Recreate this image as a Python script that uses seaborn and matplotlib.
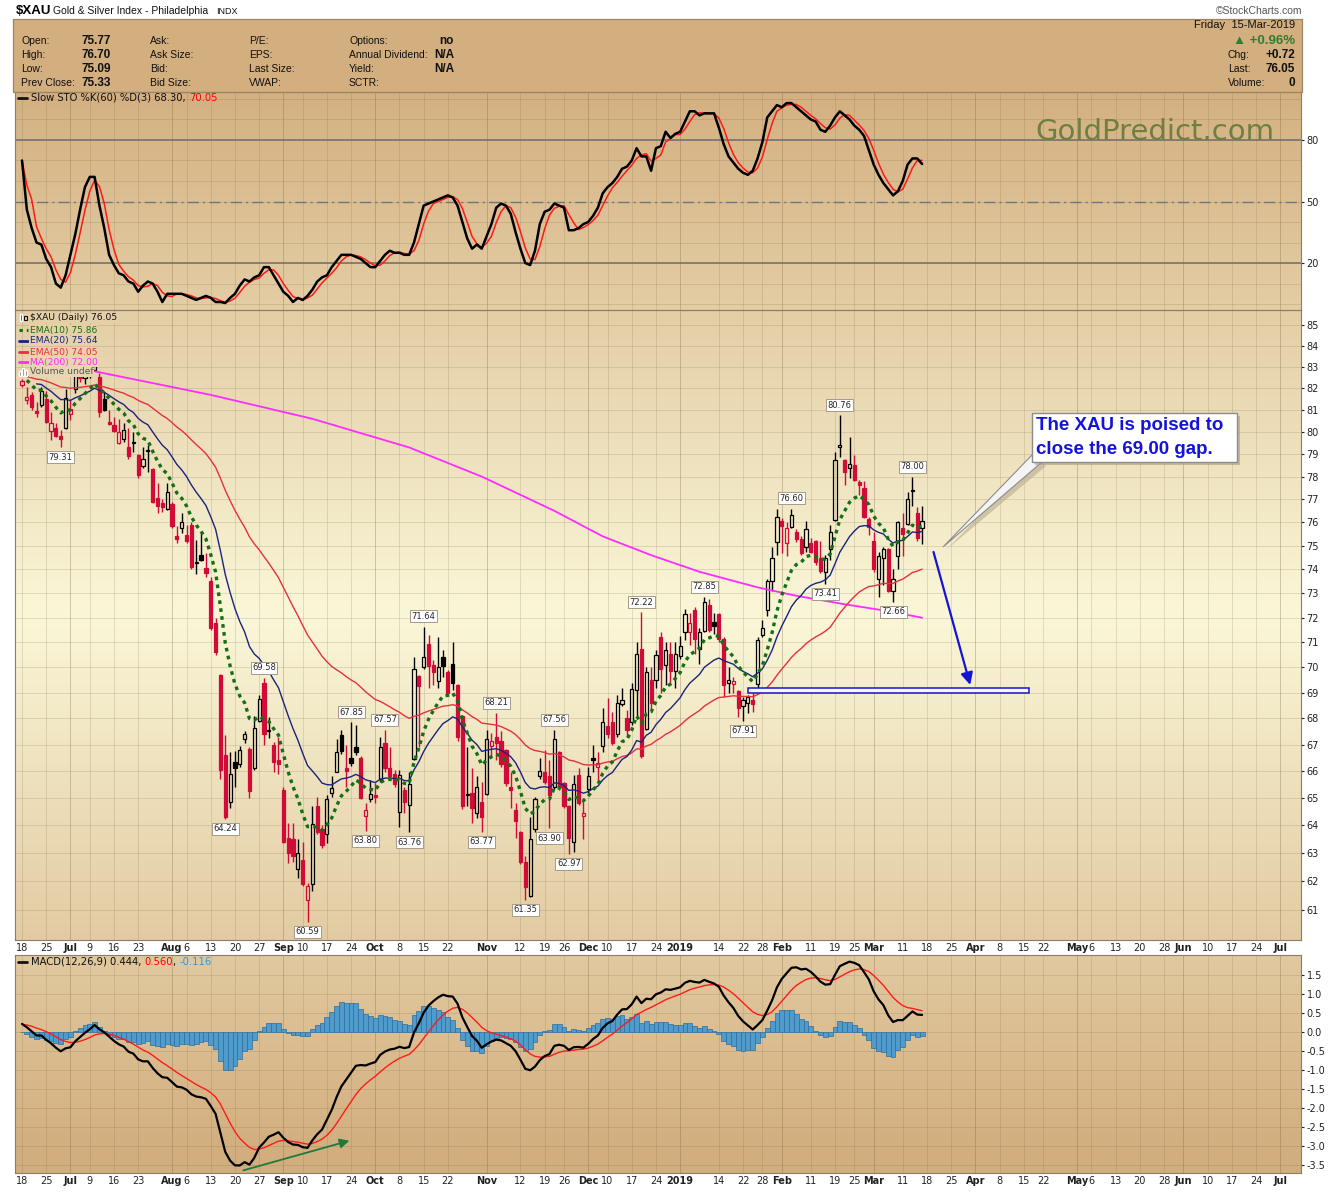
import numpy as np
import pandas as pd
import matplotlib
matplotlib.use("Agg")
import matplotlib.pyplot as plt
import seaborn as sns
from matplotlib.patches import Rectangle, Polygon
from matplotlib.ticker import NullLocator

W, H = 1340, 1192

# ---- $XAU daily bars, 18-Jun-2018 .. 15-Mar-2019 ----
opens = [82.15, 81.45, 81.70, 80.95, 81.25, 81.50, 80.05, 80.20, 79.80, 80.20,
         80.80, 81.95, 82.60, 82.50, 82.80, 82.85, 82.55, 81.50, 80.45, 80.30,
         79.50, 79.70, 79.30, 79.50, 78.95, 78.45, 79.15, 78.35, 77.05, 76.85,
         76.60, 76.80, 75.40, 75.75, 75.45, 75.90, 74.25, 74.60, 74.05, 73.50,
         71.80, 69.70, 66.60, 64.85, 66.35, 66.25, 67.20, 66.85, 66.10, 67.90,
         69.40, 67.50, 67.00, 66.40, 65.30, 63.55, 63.50, 62.45, 62.75, 61.35,
         61.90, 64.70, 63.85, 63.70, 65.20, 65.97, 67.37, 66.10, 66.50, 66.90,
         66.50, 64.35, 64.95, 65.10, 65.70, 67.05, 66.10, 65.90, 64.50, 65.30,
         64.75, 66.45, 69.65, 70.00, 70.95, 70.10, 69.45, 70.40, 69.80, 70.15,
         69.30, 68.10, 65.10, 65.20, 64.45, 64.85, 65.15, 66.95, 67.30, 67.15,
         66.80, 65.40, 64.55, 63.75, 62.70, 61.50, 63.85, 65.80, 65.95, 65.80,
         65.40, 66.70, 65.55, 64.70, 63.40, 65.85, 64.35, 65.35, 66.50, 66.15,
         66.95, 67.70, 67.85, 67.40, 68.55, 68.00, 67.85, 69.10, 70.75, 67.60,
         69.50, 69.50, 71.20, 70.10, 70.55, 69.85, 70.45, 71.40, 71.40, 72.30,
         70.75, 71.45, 72.50, 71.82, 72.15, 71.15, 69.38, 69.35, 69.05, 68.50,
         68.60, 68.70, 69.35, 71.30, 72.30, 73.50, 75.15, 76.05, 75.10, 75.80,
         75.60, 75.30, 74.95, 75.10, 75.20, 74.50, 73.90, 74.85, 76.10, 79.30,
         78.75, 78.40, 78.50, 77.75, 77.50, 76.15, 75.20, 73.60, 74.50, 74.85,
         73.10, 74.55, 75.75, 75.95, 77.35, 76.40, 75.77]
highs = [82.45, 82.05, 81.85, 81.35, 82.05, 81.90, 80.90, 80.40, 80.10, 81.95,
         81.45, 83.00, 82.95, 83.00, 83.20, 83.50, 82.70, 81.85, 81.00, 80.70,
         80.60, 80.40, 80.20, 80.00, 79.00, 79.30, 79.40, 78.40, 77.70, 77.00,
         77.70, 76.90, 75.85, 76.40, 75.90, 76.00, 75.25, 75.55, 74.70, 73.70,
         72.00, 69.75, 67.35, 66.70, 66.75, 66.95, 67.50, 66.90, 68.10, 68.90,
         69.58, 68.05, 67.10, 67.30, 65.40, 64.10, 64.10, 63.50, 63.40, 61.95,
         64.70, 65.05, 64.00, 65.10, 65.80, 67.20, 67.56, 67.00, 67.85, 67.75,
         66.55, 64.80, 65.65, 65.55, 67.30, 67.57, 66.90, 66.05, 66.05, 65.40,
         65.95, 70.40, 69.70, 71.64, 71.30, 70.30, 71.20, 70.70, 69.90, 71.00,
         69.35, 68.15, 66.90, 66.10, 65.80, 65.60, 67.55, 67.45, 68.21, 67.50,
         66.85, 65.95, 64.80, 63.80, 62.90, 64.30, 65.05, 66.50, 66.80, 66.40,
         67.56, 66.75, 65.60, 64.75, 65.85, 66.10, 64.95, 66.15, 67.00, 66.70,
         68.40, 68.80, 68.25, 68.90, 69.20, 68.33, 69.40, 71.00, 72.22, 70.00,
         70.00, 70.70, 71.40, 71.00, 71.00, 71.00, 71.25, 72.35, 72.20, 72.45,
         71.60, 72.85, 72.75, 72.20, 72.20, 71.20, 70.00, 69.62, 69.10, 68.85,
         68.92, 68.97, 71.20, 71.90, 73.60, 74.95, 76.60, 76.20, 76.00, 76.60,
         75.70, 75.40, 76.05, 75.35, 75.25, 75.20, 74.60, 75.90, 79.10, 80.76,
         78.80, 79.75, 78.95, 77.86, 77.80, 76.25, 75.60, 74.75, 74.95, 74.90,
         74.00, 76.05, 76.40, 77.30, 78.00, 76.65, 76.70]
lows = [82.05, 81.30, 81.00, 80.70, 81.15, 80.40, 79.65, 79.75, 79.31, 80.15,
        80.55, 81.80, 82.30, 82.20, 82.50, 82.80, 80.70, 80.95, 80.30, 80.00,
        79.45, 79.55, 78.80, 79.10, 77.95, 78.40, 78.20, 76.85, 76.40, 76.45,
        76.55, 75.75, 75.10, 75.55, 75.10, 74.00, 73.80, 74.35, 73.70, 71.50,
        70.50, 65.70, 64.24, 64.65, 65.40, 66.15, 67.05, 65.00, 66.05, 67.85,
        67.00, 67.25, 65.95, 65.90, 63.35, 62.65, 62.70, 62.10, 61.85, 60.59,
        61.65, 63.70, 63.20, 63.35, 65.05, 65.95, 66.65, 65.40, 66.20, 66.60,
        64.95, 63.80, 64.85, 64.80, 65.60, 65.95, 65.65, 65.40, 63.95, 64.45,
        63.76, 66.40, 66.90, 69.95, 69.20, 69.30, 69.20, 69.60, 68.95, 69.10,
        67.15, 64.60, 64.70, 64.10, 64.25, 63.77, 65.10, 66.50, 66.40, 66.15,
        65.45, 64.65, 63.55, 62.60, 61.35, 61.45, 63.75, 65.70, 65.50, 63.90,
        65.35, 65.30, 64.65, 62.97, 63.05, 64.75, 63.50, 65.20, 65.95, 65.60,
        66.70, 67.25, 67.00, 67.30, 68.50, 67.30, 67.75, 68.00, 66.50, 67.55,
        68.25, 69.20, 69.00, 69.30, 69.35, 69.20, 70.35, 71.10, 70.90, 70.55,
        70.15, 71.40, 71.40, 71.35, 71.00, 68.85, 69.00, 69.00, 68.05, 67.91,
        68.20, 68.25, 69.20, 71.20, 72.05, 73.10, 74.60, 74.70, 74.55, 75.75,
        75.15, 74.60, 74.75, 74.70, 74.20, 73.85, 73.41, 74.40, 76.05, 78.85,
        77.65, 77.95, 77.80, 77.20, 76.20, 75.45, 73.90, 72.85, 73.35, 73.05,
        72.66, 74.00, 74.55, 75.90, 76.70, 75.20, 75.09]
closes = [82.35, 81.60, 81.15, 80.85, 81.90, 80.45, 80.40, 79.80, 79.70, 81.55,
          81.05, 82.70, 82.50, 82.80, 82.90, 83.35, 80.90, 81.00, 80.35, 80.05,
          80.00, 80.10, 78.90, 79.55, 78.05, 78.80, 79.20, 76.90, 76.70, 76.65,
          77.30, 75.85, 75.30, 76.00, 75.20, 74.10, 74.30, 74.40, 73.85, 71.60,
          70.60, 66.05, 64.30, 65.90, 66.10, 66.80, 67.40, 65.25, 67.65, 68.75,
          67.40, 67.55, 66.35, 66.25, 63.40, 63.00, 62.90, 63.00, 61.90, 61.85,
          64.05, 63.75, 63.30, 64.95, 65.38, 66.70, 66.75, 66.00, 66.30, 66.70,
          65.00, 64.55, 65.15, 65.05, 66.90, 66.10, 65.80, 65.50, 65.85, 64.85,
          65.50, 69.95, 69.25, 70.40, 70.05, 69.80, 70.00, 70.05, 69.00, 69.40,
          67.30, 64.70, 65.15, 64.65, 65.40, 64.30, 67.20, 67.15, 67.05, 66.25,
          65.55, 65.30, 64.15, 62.70, 61.80, 63.50, 64.95, 66.00, 65.60, 65.10,
          67.20, 65.40, 64.70, 63.55, 65.50, 64.80, 64.45, 65.80, 66.40, 66.30,
          67.85, 67.40, 67.05, 68.60, 68.72, 67.55, 69.15, 70.55, 66.55, 69.80,
          68.60, 70.50, 69.95, 70.70, 69.85, 70.55, 70.85, 72.15, 71.80, 71.15,
          71.40, 72.65, 71.50, 71.66, 71.15, 69.30, 69.50, 69.45, 68.40, 68.70,
          68.82, 68.55, 71.10, 71.60, 73.50, 74.50, 76.25, 75.85, 75.75, 76.30,
          75.30, 74.70, 75.70, 74.75, 74.30, 73.92, 74.50, 75.60, 78.75, 79.40,
          78.20, 78.55, 77.86, 77.65, 76.25, 75.80, 74.00, 74.55, 74.88, 73.10,
          73.60, 76.00, 75.50, 77.00, 77.40, 75.33, 76.05]
prev_close_start = 82.60

# Slow STO %K(60), one value per bar
stoch_k = [70, 46, 37, 30, 29, 22, 18, 10, 8, 14,
           24, 34, 46, 57, 62, 62, 48, 37, 24, 19,
           15, 14, 11, 10, 6, 9, 11, 10, 6, 1,
           5, 5, 5, 5, 4, 3, 2, 3, 4, 3,
           1, 1, 0.5, 3, 5, 9, 12, 11, 13, 14,
           18, 18, 14, 10, 6, 4, 1, 3, 2, 4,
           7, 11, 13, 14, 18, 21, 24, 24, 24, 23,
           22, 20, 18, 18, 21, 24, 26, 25, 25, 24,
           24, 30, 39, 48, 49, 50, 51, 52, 53, 52,
           48, 40, 32, 27, 29, 27, 33, 39, 47, 49,
           48, 44, 35, 27, 20, 19, 26, 39, 45, 46,
           49, 48, 47, 36, 36, 37, 39, 40, 43, 47,
           54, 57, 59, 62, 66, 67, 70, 76, 72, 72,
           65, 76, 77, 84, 81, 83, 84, 89, 94, 94,
           92, 93, 93, 93, 86, 78, 72, 69, 66, 64,
           63, 65, 71, 79, 91, 94, 97, 96, 98, 98,
           96, 94, 92, 90, 89, 85, 84, 87, 91, 94,
           92, 90, 87, 85, 82, 75, 68, 63, 59, 56,
           53, 55, 60, 68, 71, 71, 68.3]

# MA(200) read at a few bars
ma200_idx = [15, 39, 60, 80, 95, 110, 120, 130, 140, 152, 160, 170, 178, 186]
ma200_val = [82.8, 81.7, 80.6, 79.3, 78.0, 76.5, 75.4, 74.6, 73.9, 73.25, 72.9, 72.55, 72.3, 72.0]

# value of each moving average on the first bar
ema_seed = {10: 82.60, 20: 82.60, 50: 82.60}
macd_seed = {12: 82.55, 26: 82.30, "signal": 0.20}

hi_label_bars = [50, 68, 75, 83, 98, 110, 128, 141, 159, 169, 184]
lo_label_bars = [8, 42, 59, 71, 80, 95, 104, 109, 113, 149, 166, 180]

holidays = ["2018-07-04", "2018-09-03", "2018-11-22", "2018-12-05", "2018-12-25",
            "2019-01-01", "2019-01-21", "2019-02-18", "2019-04-19", "2019-05-27"]
tick_dates = ["2018-06-18", "2018-06-25", "2018-07-02", "2018-07-09", "2018-07-16", "2018-07-23",
              "2018-08-01", "2018-08-06", "2018-08-13", "2018-08-20", "2018-08-27", "2018-09-04",
              "2018-09-10", "2018-09-17", "2018-09-24", "2018-10-01", "2018-10-08", "2018-10-15",
              "2018-10-22", "2018-11-01", "2018-11-12", "2018-11-19", "2018-11-26", "2018-12-03",
              "2018-12-10", "2018-12-17", "2018-12-24", "2019-01-02", "2019-01-14", "2019-01-22",
              "2019-01-28", "2019-02-01", "2019-02-11", "2019-02-19", "2019-02-25", "2019-03-01",
              "2019-03-11", "2019-03-18", "2019-03-25", "2019-04-01", "2019-04-08", "2019-04-15",
              "2019-04-22", "2019-05-01", "2019-05-06", "2019-05-13", "2019-05-20", "2019-05-28",
              "2019-06-03", "2019-06-10", "2019-06-17", "2019-06-24", "2019-07-01"]
tick_text = ["18", "25", "Jul", "9", "16", "23", "Aug", "6", "13", "20", "27", "Sep",
             "10", "17", "24", "Oct", "8", "15", "22", "Nov", "12", "19", "26", "Dec",
             "10", "17", "24", "2019", "14", "22", "28", "Feb", "11", "19", "25", "Mar",
             "11", "18", "25", "Apr", "8", "15", "22", "May", "6", "13", "20", "28",
             "Jun", "10", "17", "24", "Jul"]

# ---- derived series ---------------------------------------------------------
def ema(vals, span, seed):
    a = 2.0 / (span + 1)
    out, cur = [], seed
    for v in vals:
        cur += a * (v - cur)
        out.append(cur)
    return np.array(out)

o, hi, lo, c = (np.array(v) for v in (opens, highs, lows, closes))
x = np.arange(len(c))
ema10 = ema(c, 10, ema_seed[10])
ema20 = ema(c, 20, ema_seed[20])
ema50 = ema(c, 50, ema_seed[50])
macd = ema(c, 12, macd_seed[12]) - ema(c, 26, macd_seed[26])
signal = ema(macd, 9, macd_seed["signal"])
hist = macd - signal
k = pd.Series(stoch_k, dtype=float)
d = k.rolling(3, min_periods=1).mean()

days = pd.bdate_range("2018-06-18", "2019-07-05")
days = days[~days.isin(pd.to_datetime(holidays))]
tick_idx = [days.get_loc(pd.Timestamp(t)) for t in tick_dates]
month_names = {"Jul", "Aug", "Sep", "Oct", "Nov", "Dec", "2019", "Feb", "Mar", "Apr", "May", "Jun"}

# ---- style ------------------------------------------------------------------
sns.set_style("white")
plt.rcParams["font.family"] = ["DejaVu Sans"]
ARIAL = ["Liberation Sans", "DejaVu Sans"]
RED = "#d20a38"; BLK = "#000000"; BLUE = "#1414d8"
LIGHT = np.array([250, 247, 216]) / 255
DARK = np.array([210, 173, 125]) / 255

def shade(y):
    t = min(1.0, abs(y - 615) / 545.0)
    return LIGHT + (DARK - LIGHT) * t

panels = {"sto": (15, 1301, 92, 310), "px": (15, 1301, 310, 940), "macd": (15, 1301, 955, 1173)}
bg = np.ones((H, W, 3))
bg[19:92, 13:1302] = np.array([211, 174, 127]) / 255
for (x0, x1, y0, y1) in panels.values():
    for yy in range(y0, y1):
        bg[yy, x0:x1] = shade(yy)

fig = plt.figure(figsize=(W / 100, H / 100), dpi=100)
ax_bg = fig.add_axes([0, 0, 1, 1], zorder=-5)
ax_bg.imshow(bg, extent=(0, W, H, 0), aspect="auto", interpolation="nearest")
ax_bg.axis("off")

def panel(name):
    x0, x1, y0, y1 = panels[name]
    ax = fig.add_axes([x0 / W, 1 - y1 / H, (x1 - x0) / W, (y1 - y0) / H], facecolor="none")
    ax.set_xlim(-1.45, 264.3)
    for s in ax.spines.values():
        s.set_color("#8c7c6a"); s.set_linewidth(0.8)
    for i, t in zip(tick_idx, tick_text):
        ax.axvline(i, color="#7a6440", alpha=0.32 if t in month_names else 0.18, lw=0.7, zorder=0.5)
    ax.yaxis.tick_right()
    ax.tick_params(axis="y", labelsize=7, length=2, pad=2, colors="#222222")
    ax.tick_params(axis="x", length=0, pad=2, labelsize=7, colors="#222222")
    return ax

def date_labels(ax):
    ax.set_xticks(tick_idx)
    ax.set_xticklabels(tick_text)
    for lab in ax.get_xticklabels():
        if lab.get_text() in month_names:
            lab.set_fontweight("bold")

# ---- stochastic panel -------------------------------------------------------
ax_s = panel("sto")
ax_s.set_ylim(-2.9, 103.4)
for v in range(0, 101, 10):
    ax_s.axhline(v, color="#7a6440", alpha=0.18, lw=0.7, zorder=0.5)
ax_s.axhline(80, color="#6e6e6e", lw=1.1, zorder=1)
ax_s.axhline(20, color="#6e6e6e", lw=1.1, zorder=1)
ax_s.axhline(50, color="#6e7480", lw=1.0, ls=(0, (8, 3, 1.5, 3)), zorder=1)
sns.lineplot(x=x, y=d.values, ax=ax_s, color="#ff1a1a", lw=1.1, legend=False, zorder=3)
sns.lineplot(x=x, y=k.values, ax=ax_s, color=BLK, lw=1.8, legend=False, zorder=4)
ax_s.set_yticks([20, 50, 80])
ax_s.set_xticks([])
ax_s.set_xlabel(""); ax_s.set_ylabel("")

# ---- price panel ------------------------------------------------------------
ax_p = panel("px")
ax_p.set_yscale("log")
ax_p.set_ylim(59.97, 85.73)
for v in range(61, 86):
    ax_p.axhline(v, color="#7a6440", alpha=0.18, lw=0.7, zorder=0.5)
ax_p.set_yticks(list(range(61, 86)))
ax_p.set_yticklabels([str(v) for v in range(61, 86)])
ax_p.yaxis.set_minor_locator(NullLocator())

prev = np.r_[prev_close_start, c[:-1]]
col = np.where(c >= prev, BLK, RED)
top = np.maximum(o, c); bot = np.minimum(o, c)
ax_p.vlines(x, top, hi, colors=col, lw=1.0, zorder=2)
ax_p.vlines(x, lo, bot, colors=col, lw=1.0, zorder=2)
face = [cc if cl < op else "none" for cc, cl, op in zip(col, c, o)]
ax_p.bar(x, np.maximum(top - bot, 0.03), bottom=bot, width=0.66, color=face,
         edgecolor=col, linewidth=0.9, zorder=2.5)

sns.lineplot(x=ma200_idx, y=ma200_val, ax=ax_p, color="#ff2bff", lw=1.3, legend=False, zorder=3)
sns.lineplot(x=x[1:], y=ema50[1:], ax=ax_p, color="#e5303e", lw=1.0, legend=False, zorder=3)
sns.lineplot(x=x[3:], y=ema20[3:], ax=ax_p, color="#1a237e", lw=1.0, legend=False, zorder=3)
sns.lineplot(x=x[1:], y=ema10[1:], ax=ax_p, color="#157015", lw=2.4,
             ls=(0, (1.1, 1.3)), legend=False, zorder=3)
ax_p.set_xlabel(""); ax_p.set_ylabel("")
ax_p.yaxis.set_minor_locator(NullLocator())
date_labels(ax_p)

lab_box = dict(boxstyle="square,pad=0.18", fc="white", ec="#a89a88", lw=0.7)
for i in hi_label_bars:
    ax_p.annotate(f"{hi[i]:.2f}", xy=(i, hi[i]), xytext=(0, 4), textcoords="offset points",
                  ha="center", va="bottom", fontsize=6, bbox=lab_box, zorder=6)
for i in lo_label_bars:
    ax_p.annotate(f"{lo[i]:.2f}", xy=(i, lo[i]), xytext=(0, -4), textcoords="offset points",
                  ha="center", va="top", fontsize=6, bbox=lab_box, zorder=6)

# the open gap between 24-Jan and 25-Jan
gap_lo, gap_hi = hi[151], lo[152]
ax_p.add_patch(Rectangle((150, gap_lo), 58, gap_hi - gap_lo, fc="#fbf8dc", ec=BLUE, lw=1.1, zorder=4))
ax_p.annotate("", xy=(196.1, gap_hi), xytext=(188.2, 74.85),
              arrowprops=dict(arrowstyle="-|>", color=BLUE, lw=1.6, mutation_scale=18), zorder=5)

# ---- MACD panel -------------------------------------------------------------
ax_m = panel("macd")
ax_m.set_ylim(-3.71, 2.03)
mt = np.arange(-3.5, 1.51, 0.5)
for v in mt:
    ax_m.axhline(v, color="#7a6440", alpha=0.18, lw=0.7, zorder=0.5)
ax_m.bar(x, hist, width=1.0, color="#4f9bcc", edgecolor="#2d6e9e", linewidth=0.5, zorder=2)
sns.lineplot(x=x, y=signal, ax=ax_m, color="#ff1a1a", lw=1.0, legend=False, zorder=3)
sns.lineplot(x=x, y=macd, ax=ax_m, color=BLK, lw=1.6, legend=False, zorder=4)
ax_m.set_yticks(mt)
ax_m.set_yticklabels([f"{v:.1f}" for v in mt])
ax_m.set_xlabel(""); ax_m.set_ylabel("")
date_labels(ax_m)
ax_m.annotate("", xy=(68.2, -2.84), xytext=(45.2, -3.66),
              arrowprops=dict(arrowstyle="-|>", color="#1e7a3c", lw=1.3, mutation_scale=14), zorder=5)

# ---- overlay: header, legends, callout --------------------------------------
ax_o = fig.add_axes([0, 0, 1, 1], zorder=10, facecolor="none")
ax_o.set_xlim(0, W); ax_o.set_ylim(H, 0); ax_o.axis("off")
rend = fig.canvas.get_renderer()

def txt(xp, yp, s, size=7.5, color="#111111", weight="normal", ha="left", family=ARIAL, **kw):
    return ax_o.text(xp, yp, s, fontsize=size, color=color, fontweight=weight, ha=ha,
                     va="center", family=family, **kw)

def run(xp, yp, parts, **kw):
    for s, colr in parts:
        t = txt(xp, yp, s, color=colr, **kw)
        xp += t.get_window_extent(renderer=rend).width

ax_o.add_patch(Rectangle((13, 19), 1289, 73, fc="none", ec="#9b8669", lw=0.9))
run(16, 11, [("$XAU", "#000000")], size=9.5, weight="bold")
txt(53, 11, "Gold & Silver Index - Philadelphia", size=7.5)
txt(216, 12, "INDX", size=6.5)
txt(1302, 11, "\u00a9StockCharts.com", size=7.5, color="#555555", ha="right")

rows = [41, 55, 69, 83]
for yy, lab, val in zip(rows, ["Open:", "High:", "Low:", "Prev Close:"], ["75.77", "76.70", "75.09", "75.33"]):
    txt(21, yy, lab); txt(82, yy, val, size=8.5, weight="bold")
for yy, lab in zip(rows, ["Ask:", "Ask Size:", "Bid:", "Bid Size:"]):
    txt(150, yy, lab)
for yy, lab in zip(rows, ["P/E:", "EPS:", "Last Size:", "VWAP:"]):
    txt(249, yy, lab)
for yy, lab, val in zip(rows, ["Options:", "Annual Dividend:", "Yield:", "SCTR:"], ["no", "N/A", "N/A", ""]):
    txt(349, yy, lab); txt(454, yy, val, size=8.5, weight="bold", ha="right")
txt(1295, 25, "Friday  15-Mar-2019", size=8, ha="right")
txt(1295, 41, "\u25b2 +0.96%", size=9.5, weight="bold", color="#2e7d32", ha="right")
for yy, lab, val in zip(rows[1:], ["Chg:", "Last:", "Volume:"], ["+0.72", "76.05", "0"]):
    txt(1228, yy, lab); txt(1295, yy, val, size=8.5, weight="bold", ha="right")

DV = ["DejaVu Sans"]
ax_o.plot([18, 27], [98, 98], color="#111111", lw=2)
run(31, 98, [("Slow STO %K(60) %D(3) 68.30, ", "#111111"), ("70.05", "#ff0000")], size=7.2, family=DV)
ax_o.plot([18, 27], [962, 962], color="#111111", lw=2)
run(31, 962, [("MACD(12,26,9) 0.444, ", "#111111"), ("0.560", "#ff0000"), (", ", "#111111"),
              ("-0.116", "#3a95d6")], size=7.2, family=DV)

legend = [(318, "$XAU (Daily) 76.05", "#111111", None),
          (330, "EMA(10) 75.86", "#157015", (0, (1.1, 1.3))),
          (341, "EMA(20) 75.64", "#1a237e", "-"),
          (352, "EMA(50) 74.05", "#e5303e", "-"),
          (362, "MA(200) 72.00", "#ff2bff", "-"),
          (372, "Volume undef", "#555555", None)]
for yy, s, colr, ls in legend:
    txt(30, yy, s, size=6.6, color=colr, family=DV,
        bbox=dict(fc=tuple(shade(yy)), ec="none", pad=0.6))
    if ls is not None:
        ax_o.plot([19, 28], [yy, yy], color=colr, lw=2 if ls == "-" else 2.2, ls=ls)
ax_o.add_patch(Rectangle((20, 314), 2, 7, fc="#111111"))
ax_o.add_patch(Rectangle((24, 316), 3, 4, fc="none", ec="#111111", lw=0.8))
for bx, bh in [(19, 5), (22, 8), (25, 6)]:
    ax_o.add_patch(Rectangle((bx, 376 - bh), 2, bh, fc="#666666"))

txt(1155, 132, "GoldPredict.com", size=21, color="#6f7f3f", ha="center", family=DV)

# callout
ax_o.add_patch(Polygon([(1036, 458), (1046, 466), (946, 550)], fc="#b8ab90", ec="none", alpha=0.6))
ax_o.add_patch(Polygon([(1032, 455), (1042, 462), (943, 547)], fc="#f4f4f4", ec="#8c8c8c", lw=0.8))
ax_o.add_patch(Rectangle((1035, 416), 205, 49, fc="#a89c84", ec="none", alpha=0.6))
ax_o.add_patch(Rectangle((1032, 413), 205, 49, fc="white", ec="#8c8c8c", lw=1.0))
txt(1036, 426, "The XAU is poised to", size=13.5, weight="bold", color=BLUE)
txt(1036, 449, "close the 69.00 gap.", size=13.5, weight="bold", color=BLUE)

fig.savefig("out.png", dpi=100)
